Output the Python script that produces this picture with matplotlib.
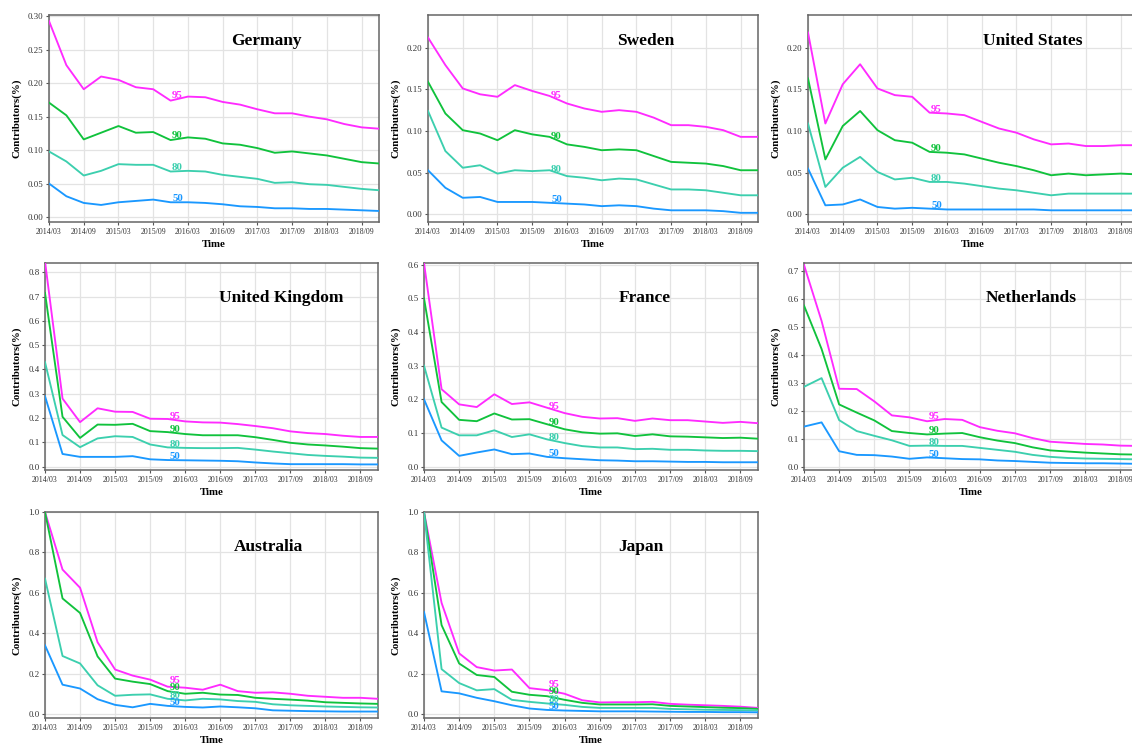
import numpy as np
import matplotlib
matplotlib.use('Agg')
import matplotlib.pyplot as plt

# ---------------- data ----------------
quarters = ['2014/03', '2014/06', '2014/09', '2014/12',
            '2015/03', '2015/06', '2015/09', '2015/12',
            '2016/03', '2016/06', '2016/09', '2016/12',
            '2017/03', '2017/06', '2017/09', '2017/12',
            '2018/03', '2018/06', '2018/09', '2018/12']
tick_labels = ['2014/03', '2014/09', '2015/03', '2015/09', '2016/03',
               '2016/09', '2017/03', '2017/09', '2018/03', '2018/09']
levels = ['95', '90', '80', '50']

germany = {
    '95': [0.293, 0.227, 0.191, 0.210, 0.205, 0.194, 0.191, 0.174, 0.180, 0.179,
           0.172, 0.168, 0.161, 0.155, 0.155, 0.150, 0.146, 0.139, 0.134, 0.132],
    '90': [0.171, 0.152, 0.116, 0.126, 0.136, 0.126, 0.127, 0.115, 0.119, 0.117,
           0.110, 0.108, 0.103, 0.096, 0.098, 0.095, 0.092, 0.087, 0.082, 0.080],
    '80': [0.098, 0.083, 0.062, 0.069, 0.079, 0.078, 0.078, 0.068, 0.069, 0.068,
           0.063, 0.060, 0.057, 0.051, 0.052, 0.049, 0.048, 0.045, 0.042, 0.040],
    '50': [0.050, 0.031, 0.021, 0.018, 0.022, 0.024, 0.026, 0.022, 0.022, 0.021,
           0.019, 0.016, 0.015, 0.013, 0.013, 0.012, 0.012, 0.011, 0.010, 0.009],
}
sweden = {
    '95': [0.212, 0.179, 0.151, 0.144, 0.141, 0.155, 0.148, 0.142, 0.133, 0.127,
           0.123, 0.125, 0.123, 0.116, 0.107, 0.107, 0.105, 0.101, 0.093, 0.093],
    '90': [0.159, 0.121, 0.101, 0.097, 0.089, 0.101, 0.096, 0.093, 0.084, 0.081,
           0.077, 0.078, 0.077, 0.070, 0.063, 0.062, 0.061, 0.058, 0.053, 0.053],
    '80': [0.124, 0.076, 0.056, 0.059, 0.049, 0.053, 0.052, 0.053, 0.046, 0.044,
           0.041, 0.043, 0.042, 0.036, 0.030, 0.030, 0.029, 0.026, 0.023, 0.023],
    '50': [0.053, 0.032, 0.020, 0.021, 0.015, 0.015, 0.015, 0.014, 0.013, 0.012,
           0.010, 0.011, 0.010, 0.007, 0.005, 0.005, 0.005, 0.004, 0.002, 0.002],
}
united_states = {
    '95': [0.218, 0.109, 0.156, 0.180, 0.151, 0.143, 0.141, 0.122, 0.121, 0.119,
           0.111, 0.103, 0.098, 0.090, 0.084, 0.085, 0.082, 0.082, 0.083, 0.083],
    '90': [0.163, 0.066, 0.106, 0.124, 0.101, 0.089, 0.086, 0.075, 0.074, 0.072,
           0.067, 0.062, 0.058, 0.053, 0.047, 0.049, 0.047, 0.048, 0.049, 0.048],
    '80': [0.109, 0.033, 0.056, 0.069, 0.051, 0.042, 0.044, 0.039, 0.039, 0.037,
           0.034, 0.031, 0.029, 0.026, 0.023, 0.025, 0.025, 0.025, 0.025, 0.025],
    '50': [0.055, 0.011, 0.012, 0.018, 0.009, 0.007, 0.008, 0.007, 0.006, 0.006,
           0.006, 0.006, 0.006, 0.006, 0.005, 0.005, 0.005, 0.005, 0.005, 0.005],
}
united_kingdom = {
    '95': [0.845, 0.280, 0.183, 0.240, 0.226, 0.225, 0.197, 0.196, 0.186, 0.182,
           0.181, 0.175, 0.167, 0.158, 0.145, 0.138, 0.134, 0.127, 0.122, 0.122],
    '90': [0.715, 0.205, 0.118, 0.173, 0.172, 0.176, 0.146, 0.142, 0.134, 0.129,
           0.129, 0.129, 0.121, 0.110, 0.098, 0.091, 0.087, 0.082, 0.076, 0.074],
    '80': [0.430, 0.130, 0.080, 0.116, 0.125, 0.122, 0.091, 0.079, 0.077, 0.076,
           0.076, 0.077, 0.070, 0.062, 0.055, 0.048, 0.044, 0.041, 0.037, 0.036],
    '50': [0.290, 0.052, 0.040, 0.040, 0.040, 0.043, 0.030, 0.027, 0.026, 0.025,
           0.024, 0.022, 0.017, 0.013, 0.010, 0.010, 0.010, 0.010, 0.009, 0.009],
}
france = {
    '95': [0.605, 0.230, 0.185, 0.177, 0.215, 0.186, 0.191, 0.175, 0.159, 0.148,
           0.143, 0.144, 0.136, 0.143, 0.138, 0.138, 0.134, 0.130, 0.133, 0.129],
    '90': [0.500, 0.192, 0.139, 0.135, 0.158, 0.140, 0.141, 0.126, 0.111, 0.102,
           0.098, 0.099, 0.091, 0.096, 0.090, 0.089, 0.087, 0.085, 0.086, 0.083],
    '80': [0.300, 0.116, 0.093, 0.093, 0.108, 0.088, 0.096, 0.081, 0.070, 0.061,
           0.057, 0.057, 0.052, 0.053, 0.050, 0.050, 0.048, 0.047, 0.047, 0.046],
    '50': [0.200, 0.078, 0.032, 0.042, 0.051, 0.037, 0.039, 0.029, 0.025, 0.022,
           0.019, 0.018, 0.016, 0.016, 0.015, 0.014, 0.014, 0.013, 0.013, 0.013],
}
netherlands = {
    '95': [0.720, 0.520, 0.278, 0.277, 0.233, 0.183, 0.176, 0.162, 0.170, 0.167,
           0.141, 0.128, 0.119, 0.102, 0.089, 0.085, 0.081, 0.079, 0.075, 0.074],
    '90': [0.575, 0.420, 0.222, 0.193, 0.165, 0.127, 0.120, 0.115, 0.118, 0.120,
           0.105, 0.093, 0.084, 0.069, 0.058, 0.054, 0.050, 0.047, 0.044, 0.043],
    '80': [0.285, 0.316, 0.166, 0.127, 0.110, 0.094, 0.074, 0.075, 0.074, 0.074,
           0.067, 0.060, 0.053, 0.042, 0.035, 0.031, 0.029, 0.028, 0.027, 0.026],
    '50': [0.143, 0.158, 0.055, 0.042, 0.041, 0.036, 0.028, 0.033, 0.030, 0.027,
           0.026, 0.022, 0.020, 0.017, 0.014, 0.013, 0.012, 0.012, 0.011, 0.010],
}
australia = {
    '95': [1.000, 0.715, 0.625, 0.355, 0.220, 0.190, 0.170, 0.135, 0.130, 0.120,
           0.145, 0.113, 0.105, 0.107, 0.100, 0.090, 0.085, 0.080, 0.080, 0.075],
    '90': [1.000, 0.572, 0.500, 0.285, 0.175, 0.160, 0.148, 0.113, 0.100, 0.105,
           0.096, 0.094, 0.080, 0.075, 0.071, 0.066, 0.058, 0.055, 0.052, 0.050],
    '80': [0.670, 0.287, 0.250, 0.142, 0.090, 0.095, 0.097, 0.075, 0.067, 0.075,
           0.072, 0.064, 0.060, 0.048, 0.043, 0.040, 0.037, 0.035, 0.033, 0.032],
    '50': [0.340, 0.145, 0.126, 0.073, 0.045, 0.033, 0.050, 0.040, 0.035, 0.032,
           0.037, 0.033, 0.028, 0.018, 0.016, 0.014, 0.013, 0.012, 0.012, 0.012],
}
japan = {
    '95': [1.000, 0.550, 0.300, 0.232, 0.215, 0.220, 0.128, 0.118, 0.100, 0.068,
           0.057, 0.058, 0.058, 0.060, 0.050, 0.046, 0.043, 0.040, 0.036, 0.030],
    '90': [1.000, 0.440, 0.250, 0.193, 0.183, 0.110, 0.095, 0.088, 0.070, 0.055,
           0.047, 0.047, 0.047, 0.048, 0.040, 0.037, 0.034, 0.031, 0.029, 0.025],
    '80': [1.000, 0.222, 0.153, 0.117, 0.123, 0.070, 0.060, 0.052, 0.045, 0.035,
           0.030, 0.030, 0.030, 0.030, 0.025, 0.023, 0.021, 0.020, 0.019, 0.017],
    '50': [0.505, 0.112, 0.102, 0.080, 0.063, 0.043, 0.027, 0.020, 0.017, 0.015,
           0.013, 0.013, 0.013, 0.012, 0.011, 0.010, 0.010, 0.009, 0.009, 0.008],
}

countries = ['Germany', 'Sweden', 'United States',
             'United Kingdom', 'France', 'Netherlands',
             'Australia', 'Japan']
country_data = [germany, sweden, united_states,
                united_kingdom, france, netherlands,
                australia, japan]

# ---------------- style / layout ----------------
colors = {'95': '#ff2bff', '90': '#10c23c', '80': '#3ccfae', '50': '#1a98ff'}
serif = ['Liberation Serif', 'DejaVu Serif']
plt.rcParams['font.family'] = serif

W, H = 1132, 744
fig = plt.figure(figsize=(W / 100, H / 100), dpi=100)

# pixel boxes: (left, top, width, height)
boxes = [(49, 15, 330, 207), (428, 15, 330, 207), (808, 15, 330, 207),
         (45, 263, 333, 207), (424, 263, 334, 207), (804, 263, 334, 207),
         (45, 512, 333, 206), (424, 512, 334, 206)]
ylims = [(-0.0075, 0.302), (-0.009, 0.239), (-0.009, 0.239),
         (-0.014, 0.838), (-0.010, 0.605), (-0.012, 0.727),
         (-0.020, 1.000), (-0.020, 1.000)]
ysteps = [0.05, 0.05, 0.05, 0.1, 0.1, 0.1, 0.2, 0.2]
yfmts = ['%.2f', '%.2f', '%.2f', '%.1f', '%.1f', '%.1f', '%.1f', '%.1f']
title_pos = [(0.66, 0.875), (0.66, 0.875), (0.68, 0.875),
             (0.71, 0.83), (0.66, 0.83), (0.68, 0.83),
             (0.67, 0.83), (0.65, 0.83)]

x = np.arange(len(quarters))
tick_pos = [quarters.index(t) for t in tick_labels]
label_x = 7.4

for i, (name, data) in enumerate(zip(countries, country_data)):
    l, t, w, h = boxes[i]
    ax = fig.add_axes([l / W, 1 - (t + h) / H, w / W, h / H])
    ax.set_xlim(0, len(quarters) - 1)
    ax.set_ylim(*ylims[i])
    ax.grid(True, color='#e3e3e3', linewidth=0.9)
    ax.set_axisbelow(True)
    for lev in levels:
        ax.plot(x, data[lev], color=colors[lev], linewidth=1.35, zorder=3)

    # direct labels with a simple collision avoidance (bottom-up)
    prev = None
    placed = []
    for lev in levels[::-1]:
        yv = np.interp(label_x, x, data[lev])
        px, py = ax.transData.transform((label_x, yv))
        py += 3.5
        if prev is not None and py < prev + 7.5:
            py = prev + 7.5
        prev = py
        placed.append((lev, ax.transData.inverted().transform((px, py))))
    for lev, (lx, ly) in placed:
        ax.text(lx, ly, lev, color=colors[lev], fontsize=7.8, fontweight='bold',
                ha='center', va='center', zorder=4)

    ax.set_xticks(tick_pos)
    ax.set_xticklabels(tick_labels, fontsize=5.7, color='#333333')
    yt = np.arange(0, ylims[i][1] + 1e-9, ysteps[i])
    ax.set_yticks(yt)
    ax.set_yticklabels([yfmts[i] % v for v in yt], fontsize=6.4, color='#333333')
    ax.tick_params(length=2.5, width=0.8, color='#555555', pad=1.5)
    for sp in ax.spines.values():
        sp.set_color('#666666')
        sp.set_linewidth(1.1)
    ax.set_xlabel('Time', fontsize=7.8, fontweight='bold', labelpad=3.5)
    ax.set_ylabel('Contributors(%)', fontsize=7.8, fontweight='bold', labelpad=4.5)
    ax.text(title_pos[i][0], title_pos[i][1], name, transform=ax.transAxes,
            fontsize=12.5, fontweight='bold', ha='center', va='center', zorder=5)

fig.savefig('out.png', dpi=100)
